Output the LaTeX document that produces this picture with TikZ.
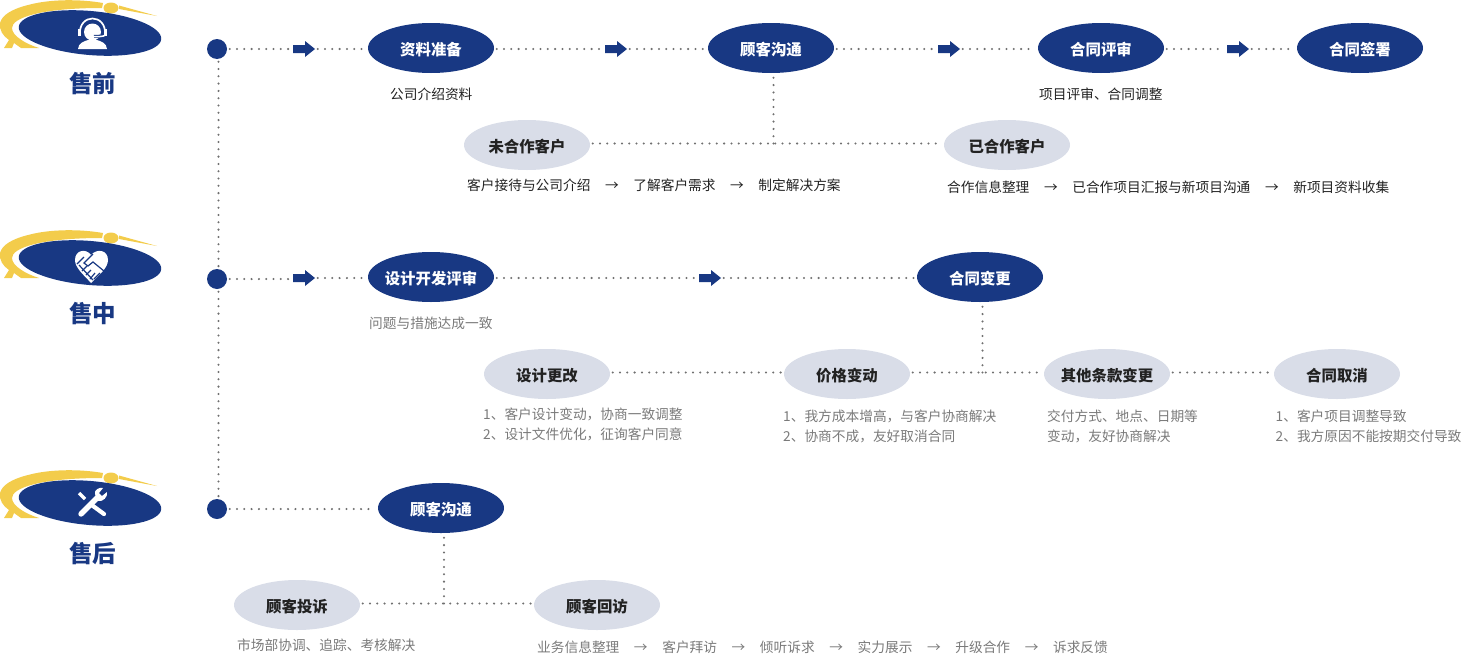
\documentclass[tikz,border=0pt]{standalone}
\usepackage{fontspec}
\setmainfont{Noto Sans CJK SC}
\usetikzlibrary{shapes.geometric}
\definecolor{navy}{HTML}{183883}
\definecolor{pale}{HTML}{D9DDE8}
\definecolor{gold}{HTML}{F3CC4B}
\definecolor{dotgray}{HTML}{707070}
\definecolor{graytext}{HTML}{7A7A7A}
\definecolor{ink}{HTML}{222222}
\tikzset{
  dark/.style={ellipse,fill=navy,minimum width=126pt,minimum height=50pt,inner sep=0pt,inner xsep=-12pt,text=white,text height=15.4pt,text depth=0.6pt,font=\fontsize{15.4pt}{16pt}\selectfont\bfseries},
  light/.style={ellipse,fill=pale,minimum width=126pt,minimum height=50pt,inner sep=0pt,inner xsep=-12pt,text=ink,text height=15.4pt,text depth=0.6pt,font=\fontsize{15.4pt}{16pt}\selectfont\bfseries},
  hub/.style={circle,fill=navy,minimum size=20pt,inner sep=0pt},
  flowarrow/.style={rectangle,minimum width=22pt,minimum height=16pt,inner sep=0pt,
    path picture={\fill[navy,shift={(path picture bounding box.center)}] (-11,-4) -- (1,-4) -- (1,-8) -- (11,0) -- (1,8) -- (1,4) -- (-11,4) -- cycle;}},
  dots/.style={draw=dotgray,line width=2.3pt,line cap=round,dash pattern=on 0pt off 7.3pt,shorten >=2.5pt,shorten <=2.5pt},
  bodytext/.style={anchor=west,inner sep=0pt,text=ink,font=\fontsize{13.7pt}{20pt}\selectfont},
  graynote/.style={anchor=west,inner sep=0pt,align=left,text=graytext,font=\fontsize{13.7pt}{20pt}\selectfont},
  stagelabel/.style={inner sep=0pt,text=navy,font=\fontsize{23.5pt}{24pt}\selectfont\bfseries},
}
\newcommand{\gap}{\hspace{14.6pt}→\hspace{14.6pt}}
\newcommand{\fw}{\char"FF0C\relax}
\newcommand{\logobase}{%
  \fill[gold] (103,3) .. controls (80,-1) and (50,-1) .. (28,5) .. controls (12,9) and (2,15) .. (0,23)
     .. controls (-1,30) and (3,36) .. (9,40) -- (4,48) -- (12,48) -- (14,43) -- (21,48) -- (39,48)
     .. controls (26,44) and (12,36) .. (12,28) .. controls (12,18) and (40,8) .. (102,8) -- cycle;
  \fill[gold] (111,8) ellipse [x radius=7.5,y radius=5.5];
  \fill[gold] (119,5.5) -- (157,16) -- (119,9) -- cycle;
  \fill[navy,rotate around={-5:(90,33)}] (90,33) ellipse [x radius=71.5,y radius=22];
}
\begin{document}
\begin{tikzpicture}[x=1pt,y=-1pt]
\useasboundingbox (0,0) rectangle (1483,664);
% logos
\begin{scope}
  \logobase
  % headset
  \fill[white] (92.5,32) circle [radius=8.5];
  \fill[white] (78,49) .. controls (78,43) and (85,41) .. (88,40) -- (97,40) .. controls (100,41) and (107,43) .. (107,49) -- cycle;
  \draw[white,line width=1.7pt] (80,35) .. controls (78,13) and (107,13) .. (105,35);
  \fill[white] (78,29) rectangle (81,36);
  \fill[white] (104,29) rectangle (107,36);
  \draw[navy,line width=3pt] (94,36.5) -- (104,36);
  \draw[white,line width=1.5pt] (105.5,35) .. controls (103,37) and (98,36.5) .. (93,36.5);
\end{scope}
\begin{scope}[shift={(0,230)}]
  \logobase
  % heart with handshake
  \fill[white] (91,53) .. controls (84,45) and (75,38) .. (75,30) .. controls (75,20) and (86,18) .. (91,25)
     .. controls (97,18) and (108,20) .. (108,30) .. controls (108,38) and (99,45) .. (91,53) -- cycle;
  \draw[navy,line width=1.2pt] (93,24) -- (84,33) -- (88,36) -- (93,32) -- (104,41);
  \draw[navy,line width=1.2pt] (79,35) -- (93,50);
  \draw[navy,line width=1.2pt] (82,41) -- (87,36);
  \draw[navy,line width=1.2pt] (86,45) -- (91,40);
  \draw[navy,line width=1.2pt] (90,49) -- (95,43);
  \draw[navy,line width=1.2pt] (94,49) -- (100,43);
  \draw[navy,line width=1.2pt] (77,34) -- (84,27);
\end{scope}
\begin{scope}[shift={(0,470)}]
  \logobase
\end{scope}
\begin{scope}[shift={(0,469)}]
  % tools
  \draw[white,line width=3.4pt] (79,24) -- (85,30);
  \draw[white,line width=4.2pt,line cap=round] (91,35.5) -- (104,45);
  \draw[white,line width=5.4pt,line cap=round] (81,45) -- (98,28);
  \fill[white] (95,25) .. controls (94,21) and (99,18) .. (103,19) -- (99,24) -- (102,27) -- (107,23) .. controls (108,28) and (103,33) .. (98,32) -- cycle;
\end{scope}
\node[stagelabel] (pre) at (92.5,83.5) {售前};
\node[stagelabel] (mid) at (92.5,313.5) {售中};
\node[stagelabel] (post) at (92.5,553.5) {售后};
% hubs
\node[hub] (h1) at (217,49) {};
\node[hub] (h2) at (217,279) {};
\node[hub] (h3) at (217,509) {};
% presale
\node[dark] (a1) at (431,48) {资料准备};
\node[dark] (a2) at (771,48) {顾客沟通};
\node[dark] (a3) at (1101,48) {合同评审};
\node[dark] (a4) at (1360,48) {合同签署};
\node[flowarrow] (f1) at (304,49) {};
\node[flowarrow] (f2) at (616,49) {};
\node[flowarrow] (f3) at (949,49) {};
\node[flowarrow] (f4) at (1238,49) {};
\node[light] (b1) at (527,145) {未合作客户};
\node[light] (b2) at (1007,145) {已合作客户};
\coordinate (j1) at (773.5,143.5);
\node[bodytext] (t1) at (390,94.5) {公司介绍资料};
\node[bodytext] (t2) at (1039,94.5) {项目评审、合同调整};
\node[bodytext] (t3) at (467,185.5) {客户接待与公司介绍\gap 了解客户需求\gap 制定解决方案};
\node[bodytext] (t4) at (947,187.5) {合作信息整理\gap 已合作项目汇报与新项目沟通\gap 新项目资料收集};
% midsale
\node[dark] (c1) at (431,277) {设计开发评审};
\node[dark] (c2) at (980,277) {合同变更};
\node[flowarrow] (f5) at (304,278) {};
\node[flowarrow] (f6) at (710,278) {};
\node[light] (d1) at (547,374) {设计更改};
\node[light] (d2) at (847,374) {价格变动};
\node[light] (d3) at (1107,374) {其他条款变更};
\node[light] (d4) at (1337,374) {合同取消};
\coordinate (j2) at (982.5,372.5);
\node[graynote] (n1) at (369,323.5) {问题与措施达成一致};
\node[graynote] (n2) at (483,424.5) {1、客户设计变动\fw 协商一致调整\\2、设计文件优化\fw 征询客户同意};
\node[graynote] (n3) at (783,426.5) {1、我方成本增高\fw 与客户协商解决\\2、协商不成\fw 友好取消合同};
\node[graynote] (n4) at (1047,426.5) {交付方式、地点、日期等\\变动\fw 友好协商解决};
\node[graynote] (n5) at (1275.5,426.5) {1、客户项目调整导致\\2、我方原因不能按期交付导致};
% aftersale
\node[dark] (e1) at (441,508) {顾客沟通};
\node[light] (g1) at (297,605) {顾客投诉};
\node[light] (g2) at (597,605) {顾客回访};
\coordinate (j3) at (444,603.5);
\node[graynote] (n6) at (237,645.5) {市场部协调、追踪、考核解决};
\node[graynote] (n7) at (537,647.5) {业务信息整理\gap 客户拜访\gap 倾听诉求\gap 实力展示\gap 升级合作\gap 诉求反馈};
% connectors
\draw[dots] ([xshift=1.5pt]h1.south) -- ([xshift=1.5pt]h2.north);
\draw[dots] ([xshift=1.5pt]h2.south) -- ([xshift=1.5pt]h3.north);
\draw[dots] (h1.east) -- (f1.west);
\draw[dots] (f1.east) -- (f1 -| a1.west);
\draw[dots] (f1 -| a1.east) -- (f2.west);
\draw[dots] (f2.east) -- (f2 -| a2.west);
\draw[dots] (f2 -| a2.east) -- (f3.west);
\draw[dots] (f3.east) -- (f3 -| a3.west);
\draw[dots] (f3 -| a3.east) -- (f4.west);
\draw[dots] (f4.east) -- (f4 -| a4.west);
\draw[dots,shorten <=0pt] (j1) -- (j1 |- a2.south);
\draw[dots] (j1 -| b1.east) -- (j1 -| b2.west);
\draw[dots] (h2.east) -- (h2.east -| f5.west);
\draw[dots] (f5.east) -- (f5 -| c1.west);
\draw[dots] (f5 -| c1.east) -- (f6.west);
\draw[dots] (f6.east) -- (f6 -| c2.west);
\draw[dots,shorten <=0pt] (j2) -- (j2 |- c2.south);
\draw[dots] (j2 -| d1.east) -- (j2 -| d2.west);
\draw[dots] (j2 -| d2.east) -- (j2 -| d3.west);
\draw[dots] (j2 -| d3.east) -- (j2 -| d4.west);
\draw[dots] (h3.east) -- (h3.east -| e1.west);
\draw[dots,shorten <=0pt] (j3) -- (j3 |- e1.south);
\draw[dots] (j3 -| g1.east) -- (j3 -| g2.west);
\end{tikzpicture}
\end{document}
